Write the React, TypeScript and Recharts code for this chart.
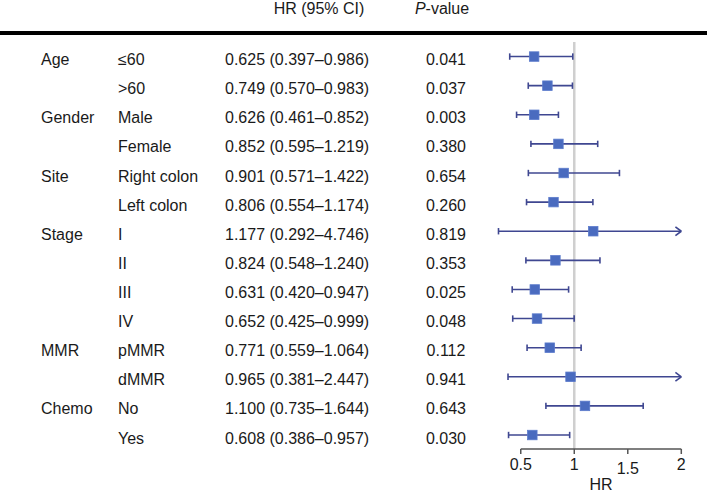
import React from 'react';
import { ComposedChart, Scatter, XAxis, YAxis, ReferenceLine } from 'recharts';

const groups = ['Age', '', 'Gender', '', 'Site', '', 'Stage', '', '', '', 'MMR', '', 'Chemo', ''];
const subgroups = ['≤60', '>60', 'Male', 'Female', 'Right colon', 'Left colon', 'I', 'II', 'III', 'IV', 'pMMR', 'dMMR', 'No', 'Yes'];
const hrValues = [0.625, 0.749, 0.626, 0.852, 0.901, 0.806, 1.177, 0.824, 0.631, 0.652, 0.771, 0.965, 1.1, 0.608];
const ciLow = [0.397, 0.57, 0.461, 0.595, 0.571, 0.554, 0.292, 0.548, 0.42, 0.425, 0.559, 0.381, 0.735, 0.386];
const ciHigh = [0.986, 0.983, 0.852, 1.219, 1.422, 1.174, 4.746, 1.24, 0.947, 0.999, 1.064, 2.447, 1.644, 0.957];
const pValues = ['0.041', '0.037', '0.003', '0.380', '0.654', '0.260', '0.819', '0.353', '0.025', '0.048', '0.112', '0.941', '0.643', '0.030'];
const xTicks = [0.5, 1, 1.5, 2];

const X_MIN = 0.25;
const X_MAX = 2.1;
const AXIS_MAX = 2;
const Y_TOP = -0.5;
const Y_BOTTOM = 13.48;

const FONT = '"Liberation Sans", Arial, sans-serif';
const LINE_COLOR = '#3f4791';
const MARK_COLOR = '#4a6bbf';

const rows = hrValues.map((v, i) => ({ x: v, y: i }));
const fmt = (n: number) => n.toFixed(3);

const RowTick = (props: any) => {
  const { y, payload } = props;
  const i = payload.value as number;
  const base = y + 8.5;
  const style = { fontFamily: FONT, fontSize: 16, fill: '#1a1a1a' };
  return (
    <g>
      <text x={41} y={base} {...style}>{groups[i]}</text>
      <text x={118} y={base} {...style}>{subgroups[i]}</text>
      <text x={225} y={base} {...style}>{`${fmt(hrValues[i])} (${fmt(ciLow[i])}–${fmt(ciHigh[i])})`}</text>
      <text x={446} y={base} textAnchor="middle" {...style}>{pValues[i]}</text>
    </g>
  );
};

const XTick = (props: any) => {
  const { x, y, payload } = props;
  const extra = payload.value === 1.5 ? 4 : 0;
  return (
    <text x={x} y={y + 14 + extra} textAnchor="middle" fontFamily={FONT} fontSize={16} fill="#1a1a1a">
      {payload.value}
    </text>
  );
};

const Square = (props: any) => {
  const { cx, cy } = props;
  return <rect x={cx - 4.75} y={cy - 4.75} width={9.5} height={9.5} fill={MARK_COLOR} stroke="#5b7bcc" strokeWidth={0.8} />;
};

export default function App() {
  const segs: React.ReactNode[] = [];
  hrValues.forEach((_, i) => {
    const lo = ciLow[i];
    const hiRaw = ciHigh[i];
    const clipped = hiRaw > AXIS_MAX;
    const hi = clipped ? AXIS_MAX : hiRaw;
    segs.push(
      <ReferenceLine key={`l${i}`} segment={[{ x: lo, y: i }, { x: hi, y: i }]} stroke={LINE_COLOR} strokeWidth={1.6} ifOverflow="visible" />
    );
    segs.push(
      <ReferenceLine key={`cl${i}`} segment={[{ x: lo, y: i - 0.11 }, { x: lo, y: i + 0.11 }]} stroke={LINE_COLOR} strokeWidth={1.6} ifOverflow="visible" />
    );
    if (clipped) {
      segs.push(
        <ReferenceLine key={`a1${i}`} segment={[{ x: hi - 0.055, y: i - 0.15 }, { x: hi, y: i }]} stroke={LINE_COLOR} strokeWidth={1.6} ifOverflow="visible" />
      );
      segs.push(
        <ReferenceLine key={`a2${i}`} segment={[{ x: hi - 0.055, y: i + 0.15 }, { x: hi, y: i }]} stroke={LINE_COLOR} strokeWidth={1.6} ifOverflow="visible" />
      );
    } else {
      segs.push(
        <ReferenceLine key={`ch${i}`} segment={[{ x: hi, y: i - 0.11 }, { x: hi, y: i + 0.11 }]} stroke={LINE_COLOR} strokeWidth={1.6} ifOverflow="visible" />
      );
    }
  });

  return (
    <div style={{ position: 'absolute', left: 0, top: 0, width: 707, height: 493, background: '#fff', fontFamily: FONT, overflow: 'hidden' }}>
      <div style={{ position: 'absolute', left: 0, top: 31, width: 707, height: 4, background: '#000' }} />
      <div style={{ position: 'absolute', left: 319, top: 0, transform: 'translateX(-50%)', fontSize: 16, color: '#1a1a1a', whiteSpace: 'nowrap', lineHeight: '17px' }}>
        HR (95% CI)
      </div>
      <div style={{ position: 'absolute', left: 442, top: 0, transform: 'translateX(-50%)', fontSize: 16, color: '#1a1a1a', whiteSpace: 'nowrap', lineHeight: '17px' }}>
        <i>P</i>-value
      </div>
      <div style={{ position: 'absolute', left: 601, top: 477, transform: 'translateX(-50%)', fontSize: 16, color: '#1a1a1a', whiteSpace: 'nowrap', lineHeight: '16px' }}>
        HR
      </div>
      <ComposedChart width={707} height={493} margin={{ top: 42, right: 15, bottom: 0, left: 0 }} style={{ position: 'absolute', left: 0, top: 0 }}>
        <XAxis
          type="number"
          dataKey="x"
          domain={[X_MIN, X_MAX]}
          ticks={xTicks}
          allowDataOverflow
          axisLine={false}
          tickLine={{ stroke: '#555', strokeWidth: 1.5 }}
          tickSize={5}
          height={44}
          tick={<XTick />}
          interval={0}
        />
        <YAxis
          type="number"
          dataKey="y"
          domain={[Y_TOP, Y_BOTTOM]}
          reversed
          ticks={hrValues.map((_, i) => i)}
          allowDataOverflow
          axisLine={false}
          tickLine={false}
          width={494}
          tick={<RowTick />}
          interval={0}
        />
        <ReferenceLine x={1} stroke="#cfcfcf" strokeWidth={2.5} ifOverflow="visible" />
        <ReferenceLine segment={[{ x: 0.5, y: Y_BOTTOM }, { x: AXIS_MAX, y: Y_BOTTOM }]} stroke="#555" strokeWidth={1.5} ifOverflow="visible" />
        {segs}
        <Scatter data={rows} dataKey="x" shape={<Square />} isAnimationActive={false} />
      </ComposedChart>
    </div>
  );
}
